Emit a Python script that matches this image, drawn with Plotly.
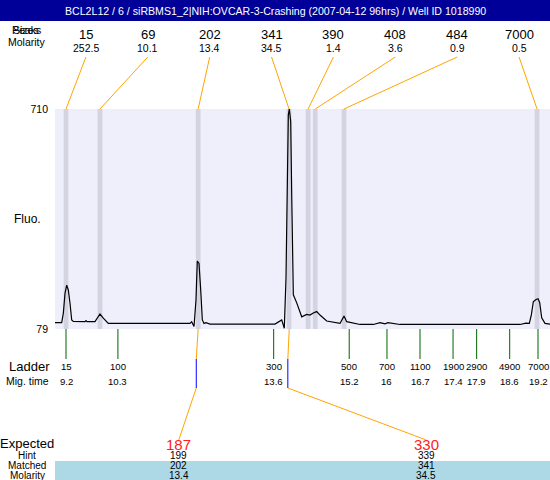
import plotly.graph_objects as go

#-----------------------------------------------------------------------------
# data
TITLE = "BCL2L12 / 6 / siRBMS1_2|NIH:OVCAR-3-Crashing (2007-04-12 96hrs) / Well ID 1018990"

# trace: migration time (s) vs fluorescence
trace_time = [8.967, 9.109, 9.143, 9.179, 9.215, 9.249, 9.285, 9.321, 9.355, 9.603,
              9.624, 9.645, 9.814, 9.884, 9.92, 9.99, 10.096, 11.827, 11.863, 11.912,
              11.954, 11.982, 12.018, 12.054, 12.088, 12.124, 12.166, 12.251, 13.628, 13.77,
              13.804, 13.825, 13.861, 13.888, 13.91, 13.931, 13.961, 13.982, 14.003, 14.016,
              14.088, 14.194, 14.3, 14.369, 14.439, 14.511, 14.581, 14.723, 15.005, 15.09,
              15.147, 15.287, 15.429, 15.711, 15.853, 15.959, 16.02, 16.276, 17.42, 17.462,
              18.818, 18.946, 19.016, 19.06, 19.1, 19.15, 19.2, 19.235, 19.278, 19.348, 19.454]
trace_fluo = [97, 97, 124, 181, 205, 191, 153, 105, 101, 100,
              103, 100, 100, 116, 122, 110, 95, 95, 100, 86,
              162, 274, 267, 191, 105, 95, 97, 93, 93, 105,
              92, 81, 225, 559, 693, 710, 674, 463, 254, 177,
              154, 114, 121, 119, 125, 129, 119, 102, 95, 116,
              100, 95, 92, 92, 97, 94, 97, 92, 94, 92,
              92, 96, 95, 120, 157, 163, 166, 155, 111, 95, 93]

peak_sizes = [15, 69, 202, 341, 390, 408, 484, 7000]
peak_molarity = [252.5, 10.1, 13.4, 34.5, 1.4, 3.6, 0.9, 0.5]
peak_times = [9.2, 9.92, 12.0, 13.925, 14.33, 14.48, 15.09, 19.18]

ladder_sizes = [15, 100, 300, 500, 700, 1100, 1900, 2900, 4900, 7000]
ladder_times = [9.2, 10.3, 13.6, 15.2, 16, 16.7, 17.4, 17.9, 18.6, 19.2]

expected_sizes = [187, 330]
expected_times = [11.96, 13.9]
hint_sizes = [199, 339]
matched_sizes = [202, 341]
matched_times = [12.0, 13.93]
matched_molarity = [13.4, 34.5]

#-----------------------------------------------------------------------------
# layout helpers (pixel -> paper)
W, H = 550, 480
PL, PT, PR, PB = 55, 109, 550, 329
X0, X1 = 8.967, 19.454
FONT = "Liberation Sans, Arial, sans-serif"
ORANGE = "#FFA500"


def px(x):
    return (x - PL) / (PR - PL)


def py(y):
    return (PB - y) / (PB - PT)


def slot(k, n):
    ''' centre of the k-th of n equal label slots, in data units '''
    return X0 + (k + 0.5) / n * (X1 - X0)


fig = go.Figure()
fig.add_trace(go.Scatter(x=trace_time, y=trace_fluo, mode="lines",
                         line=dict(color="black", width=1.2),
                         hoverinfo="skip", showlegend=False))

shapes = []
annots = []


def text(x, y, s, size=10, color="black", xref="paper", xanchor="center"):
    annots.append(dict(x=x, y=y, xref=xref, yref="paper", text=s, showarrow=False,
                       xanchor=xanchor, yanchor="middle",
                       font=dict(family=FONT, size=size, color=color)))


# title bar
shapes.append(dict(type="rect", xref="paper", yref="paper", x0=px(0), x1=px(W),
                   y0=py(21), y1=py(0), fillcolor="#000099", line_width=0))
text(px(275), py(11), TITLE, size=10.6, color="white")

# top peak table
text(px(26), py(30), "Peaks", size=10.5)
text(px(26), py(30), "Sizes", size=10.5)
text(px(27), py(42), "Molarity", size=10.5)
for k, (s, m, t) in enumerate(zip(peak_sizes, peak_molarity, peak_times)):
    text(slot(k, 8), py(35), str(s), size=13, xref="x")
    text(slot(k, 8), py(48), f"{m:g}", size=10.5, xref="x")
    shapes.append(dict(type="line", xref="x", yref="paper", x0=slot(k, 8), y0=py(57),
                       x1=t, y1=1, line=dict(color=ORANGE, width=1)))
    shapes.append(dict(type="rect", xref="x", yref="paper", x0=t - 0.05, x1=t + 0.05,
                       y0=0, y1=1, fillcolor="#D3D3E1", line_width=0, layer="below"))

text(px(27), py(219), "Fluo.", size=12)

# ladder
text(px(29), py(366), "Ladder", size=13)
text(px(27), py(381), "Mig. time", size=10.5)
for s, t in zip(ladder_sizes, ladder_times):
    shapes.append(dict(type="line", xref="x", yref="paper", x0=t, x1=t, y0=0, y1=py(359),
                       line=dict(color="#006400", width=1)))
    text(t, py(366), str(s), size=9.6, xref="x")
    text(t, py(381), f"{t:g}", size=9.6, xref="x")

# expected / matched table
shapes.append(dict(type="rect", xref="paper", yref="paper", x0=0, x1=1,
                   y0=py(480), y1=py(461), fillcolor="#ADD8E6", line_width=0))
text(px(27), py(443), "Expected", size=13)
text(px(27), py(455), "Hint", size=10)
text(px(27), py(465.5), "Matched", size=10)
text(px(27), py(475), "Molarity", size=10)
for k in range(len(expected_sizes)):
    te, tm, tl = expected_times[k], matched_times[k], slot(k, 2)
    shapes.append(dict(type="line", xref="x", yref="paper", x0=tm, y0=0, x1=te, y1=py(359),
                       line=dict(color=ORANGE, width=1)))
    shapes.append(dict(type="line", xref="x", yref="paper", x0=te, y0=py(359), x1=te, y1=py(388),
                       line=dict(color="#0000FF", width=1)))
    shapes.append(dict(type="line", xref="x", yref="paper", x0=te, y0=py(388), x1=tl, y1=py(440),
                       line=dict(color=ORANGE, width=1)))
    text(tl, py(444.5), str(expected_sizes[k]), size=15, color="#FF2020", xref="x")
    text(tl, py(455), str(hint_sizes[k]), size=10, xref="x")
    text(tl, py(465.5), str(matched_sizes[k]), size=10, xref="x")
    text(tl, py(475), f"{matched_molarity[k]:g}", size=10, xref="x")

fig.update_layout(
    width=W, height=H,
    margin=dict(l=PL, r=W - PR, t=PT, b=H - PB, pad=0),
    paper_bgcolor="white",
    plot_bgcolor="#EFEFFB",
    shapes=shapes,
    annotations=annots,
    showlegend=False,
    font=dict(family=FONT, size=10, color="black"),
)
fig.update_xaxes(range=[X0, X1], showgrid=False, zeroline=False, showline=False,
                 showticklabels=False, ticks="")
fig.update_yaxes(range=[79, 710], tickvals=[79, 710], ticktext=["79", "710"],
                 showgrid=False, zeroline=False, showline=False, ticks="",
                 tickfont=dict(size=10.5), ticklabelstandoff=6)

# the page body has a default margin; drop it so the figure fills the window
fig.write_html("out.html", config={"displayModeBar": False},
               post_script="document.body.style.margin='0px';document.body.style.overflow='hidden';")
